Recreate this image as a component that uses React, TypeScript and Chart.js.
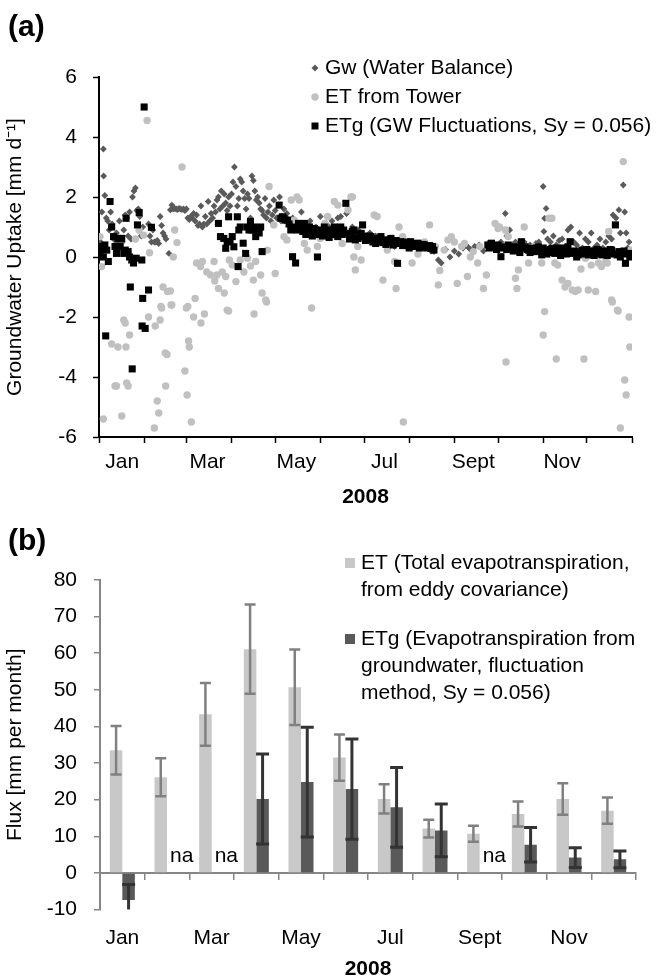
import React, { useEffect, useRef } from 'react';
import { Chart, registerables } from 'chart.js';

Chart.register(...registerables);

const FONT = '"Liberation Sans", Arial, Helvetica, sans-serif';

// ---------- Panel (a): daily values, [day of 2008, mm/d] ----------
const gwWaterBalance: [number, number][] = [
  [1,0.5],[2,1.5],[3,3.6],[3.2,2.7],[4,2.05],[5,1.3],[6,1.2],[7,0.9],[8,1.5],[9,1.1],[10,0.6],[11,0.4],[12,0.8],[13,0.5],[14,1.2],[15,0.6],[16,0.5],[17,0.9],[18,1.4],[19,1.3],[20,0.7],[21,1.5],[22,0.6],[23,2.0],[24,2.2],[25,2.3],[26,1.55],[27,1.6],[28,1.35],[29,0.7],[30,1.0],
  [34,1.1],[35,0.7],[36,0.5],[37,0.9],[38,0.5],[39,0.5],[40,0.55],[41,0.45],[42,1.35],[43,1.05],[44,0.8],[45,0.7],[46,0.6],[48,0.12],[49,1.57],[50,1.73],[51,1.6],[52,1.62],[53,1.6],[54,1.58],[55,1.62],[56,1.6],[57,1.58],[58,1.6],[59,1.55],[60,1.6],
  [61,1.3],[62,1.25],[63,1.35],[64,1.3],[65,1.45],[66,1.2],[67,1.4],[68,1.05],[69,1.1],[70,1.7],[71,1.0],[72,1.1],[73,1.35],[74,1.1],[75,1.85],[76,1.2],[77,1.45],[78,1.3],[79,1.7],[80,1.5],[81,1.9],[82,2.0],[83,1.6],[84,2.2],[85,1.7],[86,2.1],[87,1.8],[88,1.55],[89,2.0],[90,1.7],
  [91,2.1],[92,2.5],[93,3.0],[94,2.35],[95,1.7],[96,1.95],[97,2.6],[98,2.5],[99,2.2],[100,1.95],[101,1.6],[102,2.1],[103,1.95],[104,1.3],[105,2.7],[106,2.55],[107,2.2],[108,1.9],[109,2.0],[110,1.8],[111,1.6],[112,1.55],[113,1.4],[114,1.95],[115,1.3],[116,1.5],[117,1.7],[118,1.2],[119,1.4],[120,1.9],
  [121,1.55],[122,1.3],[124,2.0],[125,1.2],[127,1.6],[129,1.45],[131,1.1],[133,1.3],[135,1.2],[137,0.9],[139,1.5],[141,1.0],[143,1.1],[145,1.2],[147,0.8],[149,1.0],
  [152,1.35],[154,0.9],[156,1.1],[158,1.0],[160,1.2],[162,0.7],[164,1.3],[166,1.35],[168,0.9],[170,1.45],[172,0.8],[174,1.0],[176,0.7],[178,0.9],[180,0.6],
  [182,0.75],[184,0.6],[186,0.8],[188,0.5],[190,0.7],[192,0.55],[194,0.65],[196,0.5],[198,0.6],[200,0.4],[203,0.35],[206,0.5],[209,0.4],[212,0.45],
  [214,0.3],[217,0.4],[220,0.25],[223,0.35],[226,0.3],[228,0.2],[230,0.18],[233,-0.1],[235,-0.2],[238,0.25],[241,0.0],[244,0.2],
  [247,0.1],[250,0.3],[253,0.35],[255,0.25],[258,0.35],[261,0.4],[264,0.2],[267,0.45],[270,0.35],[273,0.4],
  [276,0.5],[279,1.45],[280,0.7],[282,0.9],[284,0.4],[286,0.5],[288,0.3],[290,0.35],[292,0.5],[294,0.25],[296,0.4],[298,0.3],[300,0.45],[302,0.5],
  [305,2.35],[305.5,0.85],[306,1.29],[307,1.62],[308,0.6],[310,0.5],[312,0.7],[314,0.4],[316,0.55],[318,0.6],[320,0.3],[322,0.9],[324,1.0],[326,0.5],[328,0.4],[330,0.8],[332,0.3],[334,0.6],
  [336,0.5],[338,0.8],[340,0.3],[342,0.4],[344,0.6],[346,0.3],[348,0.5],[350,0.7],[352,0.6],[353,1.4],[355,1.3],[357,1.57],[358,0.8],[360,2.4],[361,1.5],[362,0.8],[363,0.3],[364,0.5],[365,0.2],
];

const etTower: [number, number][] = [
  [0.7,0.68],[1.8,-0.32],[3,-5.4],[8.7,-2.9],[11,-4.3],[12,-4.3],[13,-3.0],[15.6,-5.3],[17,-2.1],[18,-2.2],[18.5,-3.0],[19,-4.2],[20,-4.3],[21,-2.6],[25,0.6],[27.5,0.9],[30.6,0.73],[33,4.55],[34,-2.0],[34.7,0.14],
  [38,-5.7],[38.6,-2.3],[40,-4.8],[41,-5.2],[42,-2.1],[42.5,-1.65],[43,-1.7],[44,-1.0],[45.5,-3.2],[45.8,-4.3],[46.7,-3.25],[47,-1.15],[49,-1.13],[49.5,-1.6],[50,-1.6],[51,0.0],[52,0.9],[53.6,0.48],[57,3.0],[59,-3.8],
  [60,-1.7],[60.5,-4.6],[61,-1.65],[61.5,-2.8],[62,-3.0],[63.4,-5.5],[65,-2.0],[66,-1.38],[67,-0.2],[69.7,-0.32],[70,-2.2],[71,-0.15],[72.4,-1.9],[74,-0.5],[76.6,-0.6],[79,-0.15],[79.5,-0.8],[81,-0.6],[82,-1.05],[84.6,-0.5],
  [86,-1.2],[87,-0.65],[88,-1.77],[89,-1.8],[89.5,-0.1],[91.5,-0.27],[94,-0.82],[97,-0.1],[99.5,-0.5],[102,-0.04],[104,-0.3],[106,-0.77],[106.5,-1.9],[107.6,-0.15],[111,-0.6],[112,-1.2],[114.5,-1.43],[115,-1.5],[115.6,0.23],[116.8,2.35],
  [120,1.07],[121,-0.55],[125,1.35],[127,0.68],[129,0.57],[132,1.9],[134,1.23],[136,2.0],[137.5,1.9],[141,0.45],[143,0.23],[146,-1.7],[148,0.8],[150,0.35],[152,0.62],[155,1.12],[157,1.35],[159,0.68],[161.6,1.85],[164,1.73],
  [167,0.45],[171,1.57],[173,2.0],[174,2.0],[175,0],[176,-0.43],[177.7,0.35],[180,-0.1],[184,0.57],[189,1.4],[191,1.35],[195,-0.77],[197,0.5],[198,0.23],[203,-0.15],[204,-1.05],[206,1.0],[208.5,0.68],[209,-5.5],[212,0.35],
  [215,-0.2],[219,0.1],[221,0.35],[223.5,0.5],[227,1.07],[231,0.35],[233,-0.93],[234,-0.45],[237,0.23],[239.6,0.57],[242,0.68],[244,0.5],[246,-0.88],[249,0.35],[251,0.45],[253,-0.65],[255,0.0],[257,0.18],[260,-0.2],[261.5,0.35],
  [264,-1.05],[266,-0.6],[269.5,0.35],[272,1.12],[274,0.95],[275,1.0],[279,0.9],[279.5,-3.5],[281,0.68],[283,0.23],[286,-0.71],[287,-1.05],[288,-0.43],[292,1.0],[295,-0.2],[299,0.35],[303,0.23],[304,-0.2],[305,-2.6],[306,-1.82],
  [309,1.29],[311,1.29],[313,-0.2],[314,-3.4],[315,-0.27],[318,-0.77],[320,-1.0],[322,-0.88],[325,-1.1],[327,-1.15],[329,-1.1],[331,-0.4],[333,-3.4],[334,-0.04],[336,-1.1],[338,-0.27],[341,-1.15],[343,-0.2],[344,0.23],[345,-0.32],
  [348,-0.15],[349,-0.2],[350,0.85],[352,-1.43],[352.5,-1.5],[356,-1.77],[356.5,-1.8],[358,-5.7],[360,3.18],[361,-4.1],[362,-4.6],[364,-2.0],[364.5,-3.0],[365,0.23],
];

const etgFluctuations: [number, number][] = [
  [0.2,0.07],[1.1,0.23],[1.8,0.35],[3,0.0],[4,0.4],[4.6,-2.63],[5.3,0.23],[6.4,-0.15],[7.6,1.85],[8.7,1.0],[10,0.68],[11,0.35],[12,0.12],[13,0.62],[14.5,0.35],[15.6,0.62],[17,0.12],[18,0.23],[18.6,1.29],[20,0.18],
  [21,0.0],[21.5,-1.0],[22.5,-0.1],[22.8,-3.73],[23.7,-0.2],[25.5,-0.04],[26.4,1.07],[27.6,1.48],[29.4,-0.1],[29.6,-2.3],[30,-1.38],[31,5.0],[31.7,-2.38],[34,-1.1],[36,0.99],
  [82,1.12],[83.4,0.68],[85.7,0.62],[87,0.29],[88,0.51],[89,1.34],[90,0.51],[91.5,0.68],[92.6,0.34],[95,1.34],[95.5,-0.32],[96,0.9],[97,1.0],[99,0.46],[100.7,0.12],[101.8,1.0],[103,0.9],[104,1.18],[105,0.9],[106.4,1.0],
  [107.6,0.68],[108.7,0.9],[110,0.8],[111,1.0],[112,0.18],
  [123.7,1.73],[124.8,1.29],[126,1.34],[127,1.29],[128,1.23],[129.4,1.23],[130.5,1.1],[131.7,0.9],[132.9,0.01],[134,1.0],[135,-0.2],[136,0.9],[137,1.12],[138.6,1.0],[140,0.85],[141,1.12],[142,0.75],[143,0.9],[144.5,1.0],[145.5,0.79],
  [146.5,0.7],[147.8,0.95],[149,0.8],[150,0.0],[151,0.75],[152,0.9],[153.5,0.7],[154.7,1.0],[156,0.85],[157,0.79],[158,0.65],[159,0.9],[160.5,0.75],[161.6,1.0],[163,0.8],[164,0.68],[165,0.85],
  [166,1.0],[167,0.75],[168,0.9],[169.5,1.79],[170.6,0.79],[172,0.6],[173,0.68],[174,0.85],[175,0.9],[176,0.57],[177.5,0.62],[179,0.75],[180,0.79],[181,1.07],[182,0.68],[183,0.55],[184,0.57],[185.5,0.7],[186.7,0.68],[188,0.5],
  [189,0.62],[190,0.45],[191,0.51],[192.5,0.6],[193.6,0.68],[195,0.48],[196,0.57],[197,0.42],[198,0.51],[199.5,0.55],[200.5,0.62],[202,0.4],[203,0.46],[204,0.55],[205,-0.21],[206,0.45],[207,0.51],[208.5,0.38],[209.7,0.46],[211,0.5],
  [212,0.4],[213,0.3],[214,0.51],[215.5,0.35],[216.6,0.4],[218,0.45],[219,0.46],[220,0.3],[221,0.34],[222.5,0.42],[223.5,0.4],[225,0.3],[226,0.34],[227,0.38],[228,0.29],[229,0.35],[230,0.23],
  [267,0.4],[268,0.3],[269.5,0.46],[271,0.38],[272,0.34],[273,0.25],[274,0.4],[276,0.01],[277,0.3],[278.7,0.34],[280,0.25],[281,0.4],[282,0.3],[283,0.29],[284.5,0.2],[285.6,0.34],[287,0.3],[288,0.23],[289,0.15],[290,0.51],
  [291.5,0.3],[292.5,0.34],[294,0.25],[295,0.23],[296,0.15],[297,0.29],[298,0.2],[299.4,0.18],[300.5,0.3],[301.7,0.34],[303,0.2],[304,0.07],[305,0.3],[306,0.23],[307.5,0.1],[308.6,0.18],[310,0.25],[311,0.29],[312,0.15],[313,0.12],
  [314.5,0.3],[315.5,0.23],[317,0.05],[318,0.12],[319,0.3],[320,0.23],[321,0.1],[322,0.34],[323.5,0.51],[324.7,0.12],[326,0.2],[327,0.18],[328,0.0],[329,0.07],[330.5,0.15],[331.6,0.23],[333,0.1],[334,0.12],[335,0.25],[336,0.07],
  [337.5,0.2],[338.5,0.18],[340,0.05],[341,0.12],[342,0.25],[343,0.23],[344.5,0.1],[345.4,0.07],[346.5,0.2],[347.7,0.18],[349,0.05],[350,0.12],[351,0.25],[352,0.23],[353.5,0.1],[354.6,1.07],[355.8,0.07],[357,0.18],[358,0.0],[359,0.12],
  [360.5,0.2],[361.5,-0.21],[362.5,0.1],[363.8,0.12],[364.5,0.0],[365.6,0.07],
];

const monthStartDays = [0, 31, 60, 91, 121, 152, 182, 213, 244, 274, 305, 335, 366];
const monthLabelDays = [16, 74.5, 135.5, 196, 257, 318];
const monthLabelNames = ['Jan', 'Mar', 'May', 'Jul', 'Sept', 'Nov'];
const panelAYTicks = { min: -6, max: 6, step: 2 };

// ---------- Panel (b): monthly totals ----------
const barMonths = ['Jan', '', 'Mar', '', 'May', '', 'Jul', '', 'Sept', '', 'Nov', ''];
const etMonthly = [33.5, 26.1, 43.3, 61.1, 50.7, 31.5, 20.2, 12.1, 10.7, 16.1, 20.2, 17.0];
const etMonthlyErr = [6.6, 5.2, 8.6, 12.2, 10.3, 6.3, 4.0, 2.4, 2.2, 3.4, 4.3, 3.6];
const etgMonthly: (number | null)[] = [-7.4, null, null, 20.2, 24.8, 22.9, 17.9, 11.6, null, 7.7, 4.2, 3.7];
const etgMonthlyErr: (number | null)[] = [4.2, null, null, 12.3, 15.0, 13.7, 10.9, 7.2, null, 4.7, 2.7, 2.3];
const naMonthIndex = [1, 2, 8];
const naTextValue = 4.5;

const BLACK = '#000000';

function PanelA() {
  const ref = useRef<HTMLCanvasElement | null>(null);
  useEffect(() => {
    if (!ref.current) return;
    const allTicks = [...monthStartDays, ...monthLabelDays].sort((a, b) => a - b);
    const textPlugin = {
      id: 'panelAText',
      afterDraw(chart: any) {
        const ctx = chart.ctx;
        ctx.save();
        ctx.fillStyle = BLACK;
        ctx.font = `bold 30px ${FONT}`;
        ctx.textBaseline = 'middle';
        ctx.textAlign = 'left';
        ctx.fillText('(a)', 8, 28);
        ctx.font = `21px ${FONT}`;
        const mx = 315, tx = 325;
        let y = 68;
        ctx.fillStyle = '#5a5a5a';
        ctx.beginPath();
        ctx.moveTo(mx, y - 3.5); ctx.lineTo(mx + 3.5, y); ctx.lineTo(mx, y + 3.5); ctx.lineTo(mx - 3.5, y); ctx.closePath();
        ctx.fill();
        ctx.fillStyle = BLACK;
        ctx.fillText('Gw (Water Balance)', tx, y);
        y = 97;
        ctx.fillStyle = '#c0c0c0';
        ctx.beginPath(); ctx.arc(mx, y, 3.7, 0, Math.PI * 2); ctx.fill();
        ctx.fillStyle = BLACK;
        ctx.fillText('ET from Tower', tx, y);
        y = 126;
        ctx.fillRect(mx - 3.5, y - 3.5, 7, 7);
        ctx.fillText('ETg (GW Fluctuations, Sy = 0.056)', tx, y);
        ctx.restore();
      },
    };
    const chart = new Chart(ref.current, {
      type: 'scatter',
      data: {
        datasets: [
          {
            label: 'ETg (GW Fluctuations, Sy = 0.056)',
            data: etgFluctuations.map(([x, y]) => ({ x, y })),
            pointStyle: 'rect', pointRadius: 5, pointBackgroundColor: '#000', pointBorderWidth: 0, order: 0,
          },
          {
            label: 'ET from Tower',
            data: etTower.map(([x, y]) => ({ x, y })),
            pointStyle: 'circle', pointRadius: 3.7, pointBackgroundColor: '#c0c0c0', pointBorderWidth: 0, order: 1,
          },
          {
            label: 'Gw (Water Balance)',
            data: gwWaterBalance.map(([x, y]) => ({ x, y })),
            pointStyle: 'rectRot', pointRadius: 3.4, pointBackgroundColor: '#5a5a5a', pointBorderWidth: 0, order: 2,
          },
        ],
      } as any,
      options: {
        responsive: false,
        animation: false,
        events: [],
        layout: { padding: { top: 77, right: 34, bottom: 0, left: 0 } },
        plugins: { legend: { display: false }, tooltip: { enabled: false } },
        scales: {
          x: {
            type: 'linear', min: 0, max: 366,
            afterBuildTicks: (s: any) => { s.ticks = allTicks.map((v) => ({ value: v })); },
            afterFit: (s: any) => { s.height = 83; },
            ticks: {
              autoSkip: false, maxRotation: 0, padding: 7, color: BLACK, font: { size: 21, family: FONT },
              callback: (v: any) => { const i = monthLabelDays.indexOf(Number(v)); return i >= 0 ? monthLabelNames[i] : ''; },
            },
            grid: {
              drawOnChartArea: false, tickLength: 6, tickWidth: 1.5,
              tickColor: (c: any) => (c.tick && monthStartDays.includes(c.tick.value) ? BLACK : 'rgba(0,0,0,0)'),
            },
            border: { color: BLACK, width: 2 },
            title: { display: true, text: '2008', color: BLACK, font: { size: 21, weight: 'bold', family: FONT }, padding: { top: 0, bottom: 10 } },
          },
          y: {
            min: panelAYTicks.min, max: panelAYTicks.max,
            afterFit: (s: any) => { s.width = 99; },
            ticks: { stepSize: panelAYTicks.step, padding: 16, color: BLACK, font: { size: 21, family: FONT } },
            grid: { drawOnChartArea: false, tickLength: 6, color: BLACK, tickWidth: 1.5 },
            border: { color: BLACK, width: 2 },
            title: { display: true, text: 'Groundwater Uptake [mm d⁻¹]', color: BLACK, font: { size: 21, family: FONT }, padding: { top: 3, bottom: 0 } },
          },
        },
      } as any,
      plugins: [textPlugin],
    });
    return () => chart.destroy();
  }, []);
  return <canvas ref={ref} width={666} height={520} style={{ position: 'absolute', left: 0, top: 0, width: 666, height: 520 }} />;
}

function PanelB() {
  const ref = useRef<HTMLCanvasElement | null>(null);
  useEffect(() => {
    if (!ref.current) return;
    const errSpecs = [
      { err: etMonthlyErr, color: '#808080', cap: 11, lw: 2.5 },
      { err: etgMonthlyErr, color: '#333333', cap: 13, lw: 3 },
    ];
    const errPlugin = {
      id: 'errBars',
      afterDatasetsDraw(chart: any) {
        const { ctx, chartArea, scales } = chart;
        const ys = scales.y;
        ctx.save();
        ctx.beginPath();
        ctx.rect(chartArea.left, chartArea.top, chartArea.right - chartArea.left, chartArea.bottom - chartArea.top);
        ctx.clip();
        chart.data.datasets.forEach((ds: any, di: number) => {
          const meta = chart.getDatasetMeta(di);
          const spec = errSpecs[di];
          meta.data.forEach((el: any, i: number) => {
            const v = ds.data[i];
            const e = spec.err[i];
            if (v == null || e == null) return;
            const px = el.x;
            const yHi = ys.getPixelForValue(v + e);
            const yLo = ys.getPixelForValue(v - e);
            ctx.strokeStyle = spec.color;
            ctx.lineWidth = spec.lw;
            ctx.beginPath();
            ctx.moveTo(px, yHi); ctx.lineTo(px, yLo);
            ctx.moveTo(px - spec.cap / 2, yHi); ctx.lineTo(px + spec.cap / 2, yHi);
            ctx.moveTo(px - spec.cap / 2, yLo); ctx.lineTo(px + spec.cap / 2, yLo);
            ctx.stroke();
          });
        });
        ctx.restore();
      },
      afterDraw(chart: any) {
        const { ctx, scales } = chart;
        ctx.save();
        ctx.fillStyle = BLACK;
        ctx.textBaseline = 'middle';
        ctx.textAlign = 'left';
        ctx.font = `bold 30px ${FONT}`;
        ctx.fillText('(b)', 8, 30);
        ctx.font = `21px ${FONT}`;
        naMonthIndex.forEach((i) => {
          const x = scales.x.getPixelForValue(i) + 3;
          ctx.fillText('na', x, scales.y.getPixelForValue(naTextValue));
        });
        const mx = 350, tx = 361;
        ctx.fillStyle = '#c8c8c8';
        ctx.fillRect(mx - 5, 51 - 5, 10, 10);
        ctx.fillStyle = BLACK;
        ctx.fillText('ET (Total evapotranspiration,', tx, 51);
        ctx.fillText('from eddy covariance)', tx, 78);
        ctx.fillStyle = '#595959';
        ctx.fillRect(mx - 5, 127 - 5, 10, 10);
        ctx.fillStyle = BLACK;
        ctx.fillText('ETg (Evapotranspiration from', tx, 127);
        ctx.fillText('groundwater, fluctuation', tx, 154);
        ctx.fillText('method, Sy = 0.056)', tx, 181);
        ctx.restore();
      },
    };
    const chart = new Chart(ref.current, {
      type: 'bar',
      data: {
        labels: barMonths,
        datasets: [
          { label: 'ET (Total evapotranspiration, from eddy covariance)', data: etMonthly, backgroundColor: '#c8c8c8', categoryPercentage: 0.56, barPercentage: 1, xAxisID: 'x', yAxisID: 'y' },
          { label: 'ETg (Evapotranspiration from groundwater, fluctuation method, Sy = 0.056)', data: etgMonthly, backgroundColor: '#595959', categoryPercentage: 0.56, barPercentage: 1, xAxisID: 'x', yAxisID: 'y' },
        ],
      } as any,
      options: {
        responsive: false,
        animation: false,
        events: [],
        layout: { padding: { top: 68, right: 30, bottom: 0, left: 0 } },
        plugins: { legend: { display: false }, tooltip: { enabled: false } },
        scales: {
          x: {
            type: 'category', axis: 'x', position: { y: 0 }, offset: true,
            ticks: { display: false },
            grid: { offset: true, drawOnChartArea: false, tickLength: 6, color: '#868686', lineWidth: 1.5 },
            border: { color: '#868686', width: 2 },
          },
          xl: {
            type: 'category', axis: 'x', labels: barMonths, position: 'bottom', offset: true,
            afterFit: (s: any) => { s.height = 70.5; },
            grid: { display: false, drawTicks: false },
            border: { display: false },
            ticks: { autoSkip: false, maxRotation: 0, padding: 16, color: BLACK, font: { size: 21, family: FONT } },
            title: { display: true, text: '2008', color: BLACK, font: { size: 21, weight: 'bold', family: FONT, lineHeight: 1 }, padding: { top: 0, bottom: 0 } },
          },
          y: {
            min: -10, max: 80,
            afterFit: (s: any) => { s.width = 100; },
            ticks: { stepSize: 10, padding: 17, color: BLACK, font: { size: 21, family: FONT } },
            grid: { drawOnChartArea: false, tickLength: 6, color: '#868686', lineWidth: 1.5 },
            border: { color: '#868686', width: 2 },
            title: { display: true, text: 'Flux [mm per month]', color: BLACK, font: { size: 21, family: FONT }, padding: { top: 3, bottom: 0 } },
          },
        },
      } as any,
      plugins: [errPlugin],
    });
    return () => chart.destroy();
  }, []);
  return <canvas ref={ref} width={666} height={468} style={{ position: 'absolute', left: 0, top: 512, width: 666, height: 468 }} />;
}

export default function App() {
  return (
    <div style={{ position: 'absolute', left: 0, top: 0, width: 666, height: 980, overflow: 'hidden', background: '#fff' }}>
      <PanelA />
      <PanelB />
    </div>
  );
}
